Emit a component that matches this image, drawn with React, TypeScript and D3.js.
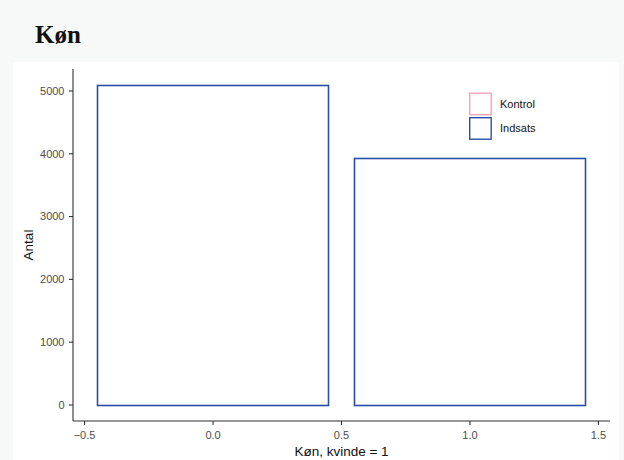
import React from "react";
import * as d3 from "d3";

const categories = [0, 1];
const kontrolValues = [5095, 3935];
const indsatsValues = [5095, 3935];
const xTicks = [-0.5, 0, 0.5, 1, 1.5];
const yTicks = [0, 1000, 2000, 3000, 4000, 5000];
const seriesNames = ["Kontrol", "Indsats"];
const seriesColors = ["#f4a3b5", "#2a4ea6"];

const W = 624;
const H = 460;

export default function App() {
  const halfW = 0.45;
  const xMin = d3.min(categories)! - halfW;
  const xMax = d3.max(categories)! + halfW;
  const xPad = (xMax - xMin) * 0.05;
  const x = d3.scaleLinear().domain([xMin - xPad, xMax + xPad]).range([73, 610]);
  const yMaxV = d3.max([...kontrolValues, ...indsatsValues])!;
  const y = d3.scaleLinear().domain([-0.05 * yMaxV, yMaxV * 1.05]).range([421, 69]);
  const axisColor = "#333333";
  const tickColor = "#4d4d4d";
  const font = "'Liberation Sans', Arial, sans-serif";
  const series = [kontrolValues, indsatsValues];

  return (
    <svg width={W} height={H} style={{ position: "absolute", left: 0, top: 0, display: "block" }}>
      <rect x={0} y={0} width={W} height={H} fill="#f7f8f8" />
      <rect x={13} y={62} width={606} height={H - 62} fill="#ffffff" />
      <text x={35} y={43} fontFamily="'Liberation Serif', 'Times New Roman', serif" fontWeight="bold" fontSize={25} fill="#111">Køn</text>

      {series.map((vals, si) =>
        vals.map((v, i) => (
          <rect
            key={`${si}-${i}`}
            x={Math.round(x(categories[i] - halfW)) + 0.5}
            y={Math.round(y(v)) + 0.5}
            width={Math.round(x(categories[i] + halfW) - x(categories[i] - halfW))}
            height={Math.round(y(0)) - Math.round(y(v))}
            fill="none"
            stroke={seriesColors[si]}
            strokeWidth={si === 0 ? 1 : 1.6}
          />
        ))
      )}

      {/* axes */}
      <line x1={73} x2={73} y1={y.range()[1]} y2={y.range()[0]} stroke={axisColor} strokeWidth={1.1} />
      <line x1={73} x2={610} y1={y.range()[0]} y2={y.range()[0]} stroke={axisColor} strokeWidth={1.1} />
      {yTicks.map((t) => (
        <g key={t}>
          <line x1={69} x2={73} y1={y(t)} y2={y(t)} stroke={axisColor} strokeWidth={1.1} />
          <text x={64.5} y={y(t)} dy="0.35em" textAnchor="end" fontFamily={font} fontSize={11} fill={tickColor}>{t}</text>
        </g>
      ))}
      {xTicks.map((t) => (
        <g key={t}>
          <line x1={x(t)} x2={x(t)} y1={421} y2={425} stroke={axisColor} strokeWidth={1.1} />
          <text x={x(t)} y={435} dy="0.35em" textAnchor="middle" fontFamily={font} fontSize={11} fill={tickColor}>{d3.format(".1f")(t)}</text>
        </g>
      ))}
      <text x={(73 + 610) / 2} y={456} textAnchor="middle" fontFamily={font} fontSize={13.5} fill="#111">Køn, kvinde = 1</text>
      <text transform={`translate(33, ${(69 + 421) / 2}) rotate(-90)`} textAnchor="middle" fontFamily={font} fontSize={13.5} fill="#111">Antal</text>

      {/* legend */}
      {seriesNames.map((n, i) => (
        <g key={n} transform={`translate(469, ${92.5 + i * 24.5})`}>
          <rect x={0.7} y={0.7} width={21.5} height={21.5} fill="#fff" stroke={seriesColors[i]} strokeWidth={1.4} />
          <text x={31} y={11.5} dy="0.35em" fontFamily={font} fontSize={11} fill="#111">{n}</text>
        </g>
      ))}
    </svg>
  );
}
